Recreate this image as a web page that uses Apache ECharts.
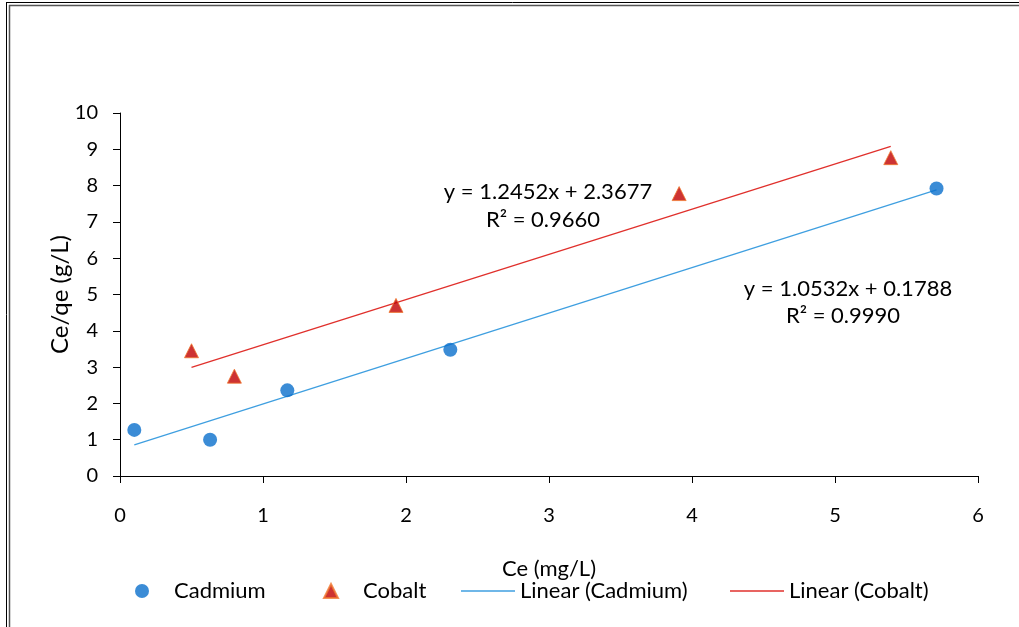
<!DOCTYPE html>
<html lang="en">
<head>
  <meta charset="UTF-8">
  <title>Ce/qe vs Ce</title>
  <script src="https://cdn.jsdelivr.net/npm/echarts@6/dist/echarts.min.js"></script>
  <style>
    html, body { margin: 0; padding: 0; background: #fff; }
  </style>
</head>
<body>
<div id="box" style="width: 1019px;height: 627px;"></div>
<script>
  // points
  var cadmiumX = [0.10, 0.63, 1.17, 2.31, 5.71];
  var cadmiumY = [1.27, 1.00, 2.36, 3.48, 7.92];
  var cobaltX = [0.50, 0.80, 1.93, 3.91, 5.39];
  var cobaltY = [3.45, 2.75, 4.70, 7.78, 8.77];
  // trendline ends as drawn
  var cadLineX = [0.10, 5.71];
  var cadLineY = [0.86, 7.88];
  var cobLineX = [0.50, 5.39];
  var cobLineY = [2.99, 9.08];
  var xTicks = [0, 1, 2, 3, 4, 5, 6];
  var yTicks = [0, 1, 2, 3, 4, 5, 6, 7, 8, 9, 10];

  function pairs(xs, ys) {
    return xs.map(function (x, i) { return [x, ys[i]]; });
  }

  var font = 'Lato, "Open Sans", sans-serif';
  var myChart = echarts.init(document.getElementById("box"));

  // one legend per entry so each can sit where it is in the picture
  function legendAt(left, name, icon, w, h, gap) {
    return {
      left: left,
      top: 575,
      itemWidth: w,
      itemHeight: h,
      selectedMode: false,
      data: [{ name: name, icon: icon }],
      textStyle: { fontFamily: font, fontSize: 22, color: '#000', padding: [0, 0, 0, gap] }
    };
  }

  var option = {
    animation: false,
    backgroundColor: '#fff',
    textStyle: { fontFamily: font },
    grid: { left: 120, right: 41, top: 113, bottom: 151 },
    legend: [
      legendAt(130, 'Cadmium', 'circle', 14, 14, 20),
      legendAt(318, 'Cobalt', 'triangle', 14, 14, 20),
      legendAt(456, 'Linear (Cadmium)', 'rect', 54, 1.5, 0),
      legendAt(725, 'Linear (Cobalt)', 'rect', 54, 1.5, 0)
    ],
    xAxis: {
      type: 'value',
      min: xTicks[0],
      max: xTicks[xTicks.length - 1],
      interval: 1,
      name: 'Ce (mg/L)',
      nameLocation: 'middle',
      nameGap: 82,
      nameMoveOverlap: false,
      nameTextStyle: { fontFamily: font, fontSize: 22, color: '#000' },
      axisLine: { lineStyle: { color: '#000', width: 1 } },
      axisTick: { show: true, length: 7, inside: false, lineStyle: { color: '#000' } },
      axisLabel: { fontFamily: font, fontSize: 20, color: '#000', margin: 30 },
      splitLine: { show: false }
    },
    yAxis: {
      type: 'value',
      min: yTicks[0],
      max: yTicks[yTicks.length - 1],
      interval: 1,
      name: 'Ce/qe (g/L)',
      nameLocation: 'middle',
      nameGap: 48,
      nameMoveOverlap: false,
      nameTextStyle: { fontFamily: font, fontSize: 24, color: '#000' },
      axisLine: { show: true, lineStyle: { color: '#000', width: 1 } },
      axisTick: { show: true, length: 7, inside: false, lineStyle: { color: '#000' } },
      axisLabel: { fontFamily: font, fontSize: 20, color: '#000', margin: 22 },
      splitLine: { show: false }
    },
    series: [
      {
        name: 'Cadmium',
        type: 'scatter',
        symbol: 'circle',
        symbolSize: 14,
        itemStyle: { color: '#0A6FCC' },
        data: pairs(cadmiumX, cadmiumY),
        z: 5
      },
      {
        name: 'Cobalt',
        type: 'scatter',
        symbol: 'triangle',
        symbolSize: 14,
        itemStyle: { color: '#C00000', borderColor: '#F07830', borderWidth: 1 },
        data: pairs(cobaltX, cobaltY),
        z: 5
      },
      {
        name: 'Linear (Cadmium)',
        type: 'line',
        symbol: 'none',
        lineStyle: { color: '#3F9FE0', width: 1.3 },
        itemStyle: { color: '#3F9FE0' },
        data: pairs(cadLineX, cadLineY)
      },
      {
        name: 'Linear (Cobalt)',
        type: 'line',
        symbol: 'none',
        lineStyle: { color: '#E0302C', width: 1.3 },
        itemStyle: { color: '#E0302C' },
        data: pairs(cobLineX, cobLineY)
      }
    ],
    graphic: [
      // double frame, top and left
      { type: 'line', shape: { x1: 6, y1: 2.5, x2: 1019, y2: 2.5 }, style: { stroke: '#000', lineWidth: 1 } },
      { type: 'line', shape: { x1: 9, y1: 5.5, x2: 1019, y2: 5.5 }, style: { stroke: '#555', lineWidth: 1.5 } },
      { type: 'line', shape: { x1: 6.5, y1: 2, x2: 6.5, y2: 627 }, style: { stroke: '#000', lineWidth: 1 } },
      { type: 'line', shape: { x1: 9.5, y1: 5, x2: 9.5, y2: 627 }, style: { stroke: '#555', lineWidth: 1.5 } },
      // trendline equations
      { type: 'text', x: 548, y: 192, style: { text: 'y = 1.2452x + 2.3677', fontFamily: font, fontSize: 22, fill: '#000', align: 'center', verticalAlign: 'middle' } },
      { type: 'text', x: 543, y: 220, style: { text: 'R² = 0.9660', fontFamily: font, fontSize: 22, fill: '#000', align: 'center', verticalAlign: 'middle' } },
      { type: 'text', x: 848, y: 289, style: { text: 'y = 1.0532x + 0.1788', fontFamily: font, fontSize: 22, fill: '#000', align: 'center', verticalAlign: 'middle' } },
      { type: 'text', x: 843, y: 316, style: { text: 'R² = 0.9990', fontFamily: font, fontSize: 22, fill: '#000', align: 'center', verticalAlign: 'middle' } }
    ]
  };
  myChart.setOption(option);
</script>
</body>
</html>
